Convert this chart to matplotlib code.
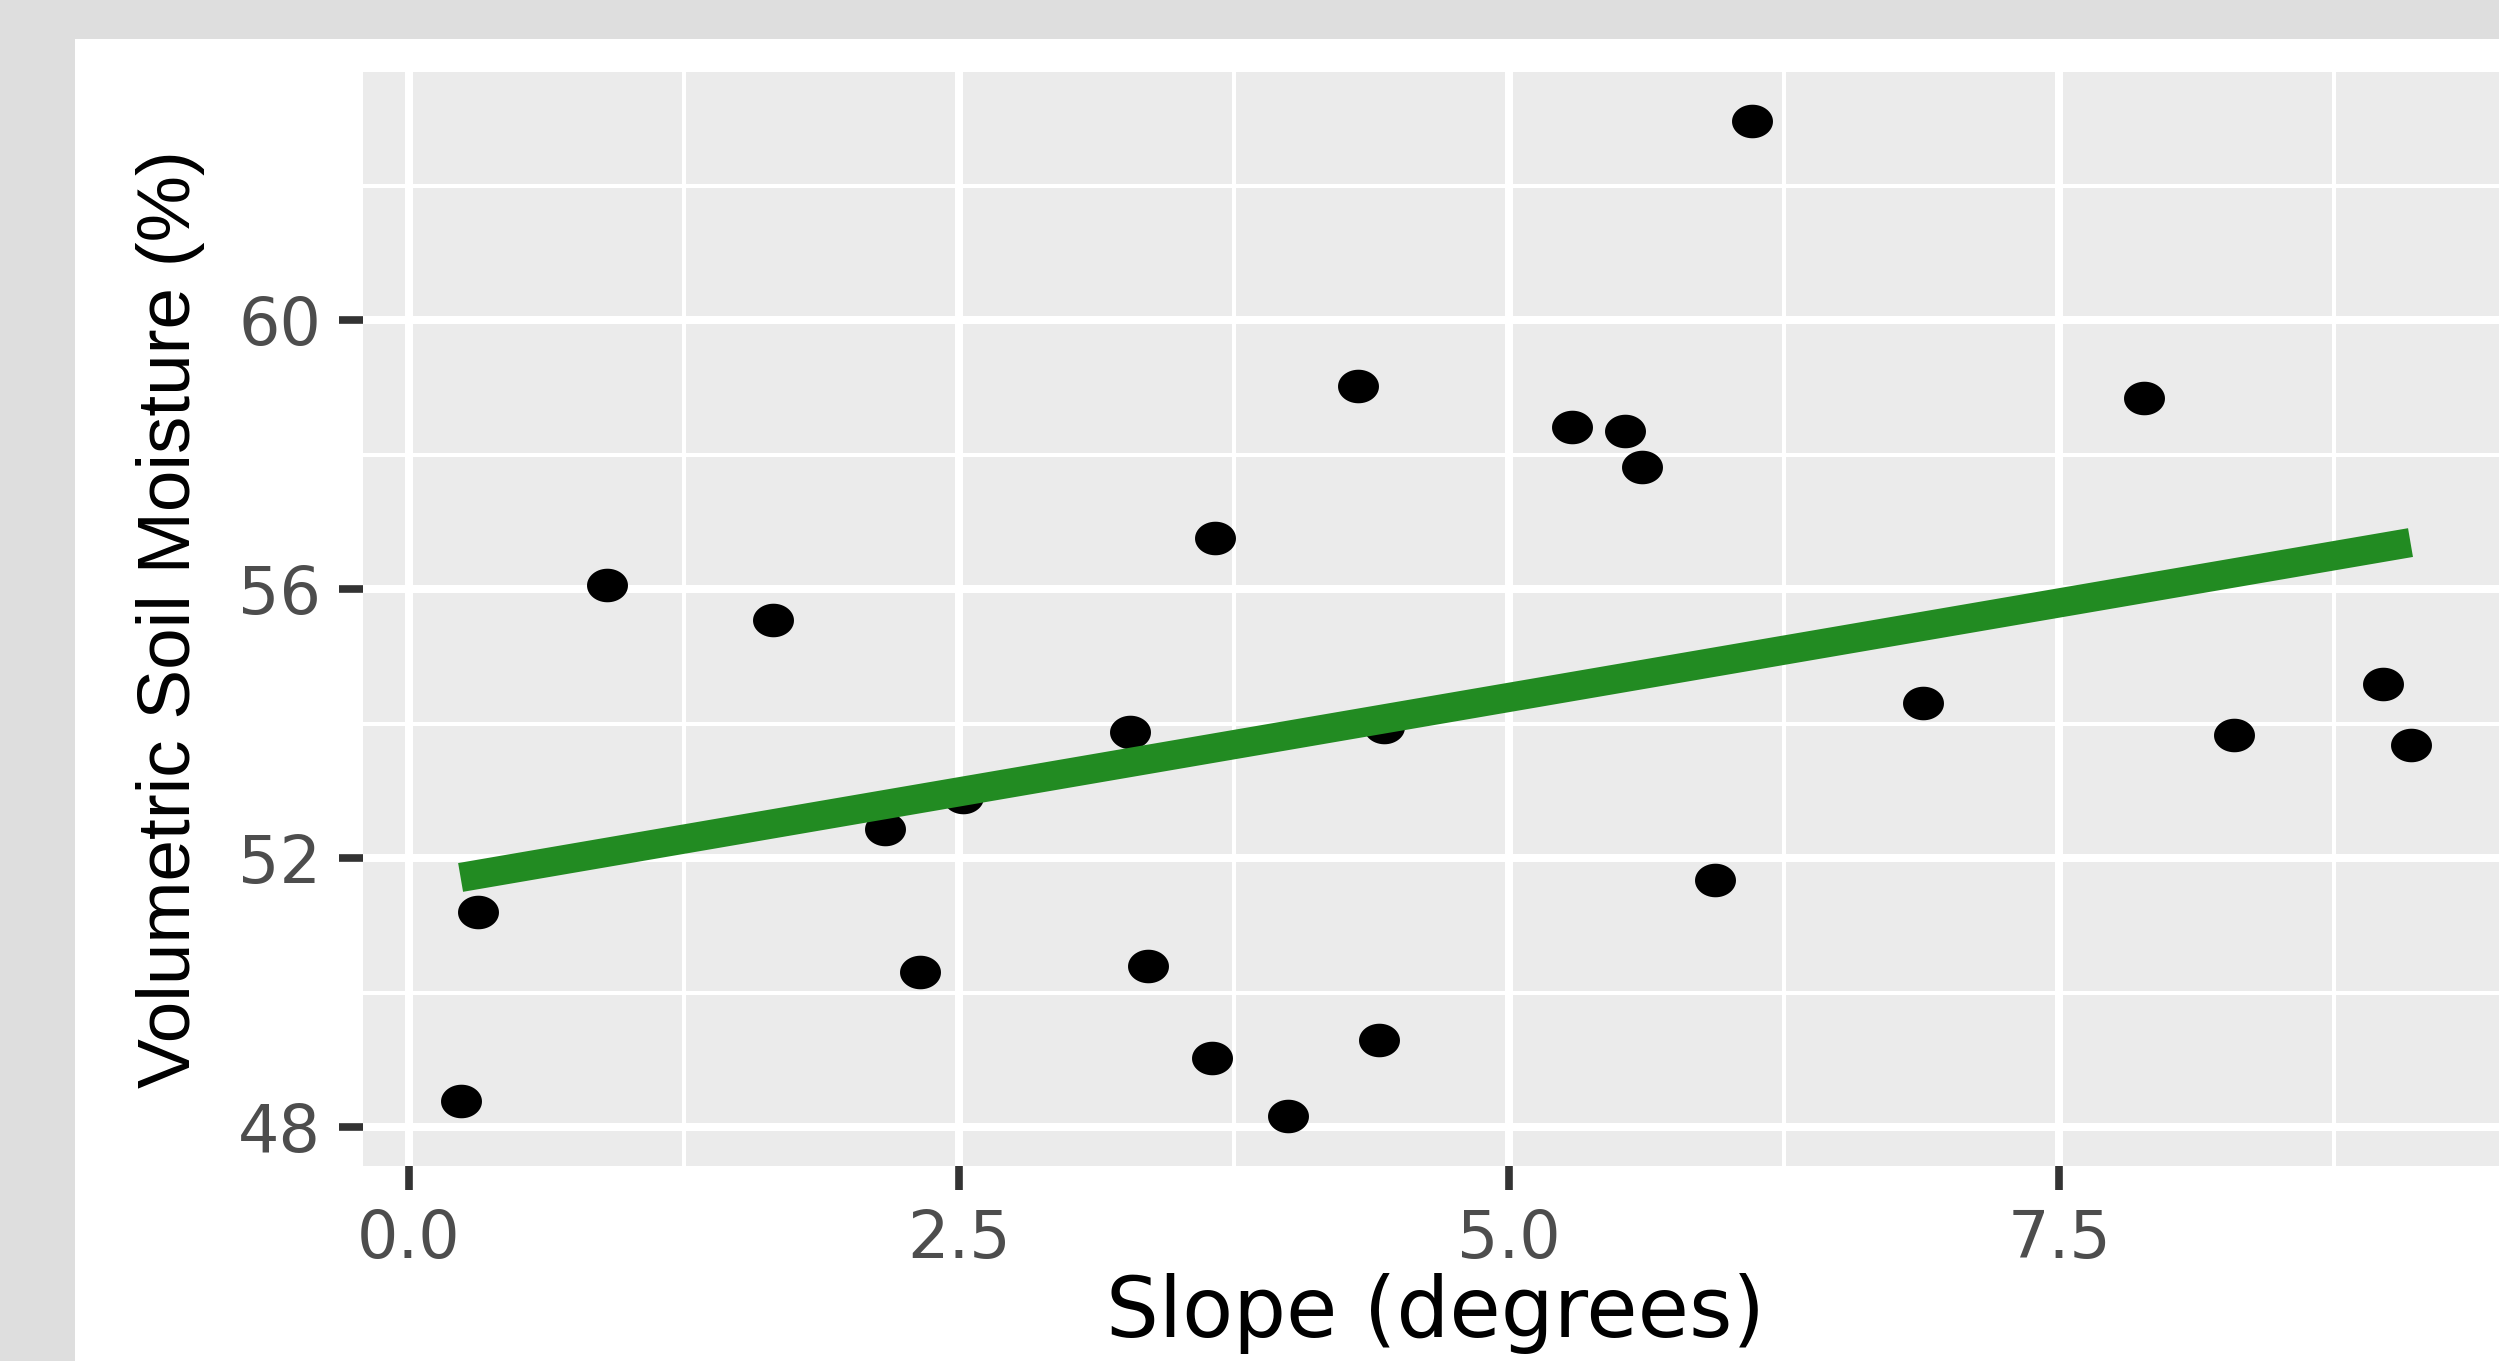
import numpy as np
import matplotlib
matplotlib.use("Agg")
import matplotlib.pyplot as plt
import matplotlib.ticker as plticker
from matplotlib.path import Path
from matplotlib.patches import Rectangle

# slope (degrees) vs volumetric soil moisture (%)
slope = [0.235, 0.315, 0.901, 1.655, 2.162, 2.322, 2.517, 3.278, 3.358, 3.662,
         3.649, 3.996, 4.315, 4.409, 4.430, 5.286, 5.525, 5.605, 5.938, 6.105,
         6.880, 7.887, 8.293, 8.974, 9.097]
moisture = [48.38, 51.20, 56.06, 55.54, 52.43, 50.30, 52.91, 53.88, 50.39, 56.77,
            49.02, 48.16, 59.03, 49.30, 53.95, 58.41, 58.36, 57.82, 51.67, 62.96,
            54.31, 58.84, 53.83, 54.59, 53.69]

x_ticks = [0.0, 2.5, 5.0, 7.5]
x_ticklabels = ["0.0", "2.5", "5.0", "7.5"]
y_ticks = [48, 52, 56, 60]
y_ticklabels = ["48", "52", "56", "60"]

x = np.array(slope)
y = np.array(moisture)

fig = plt.figure(figsize=(24.99, 13.61), dpi=100, facecolor="#dedede")
# white plot background inset from the grey border
bg = Rectangle((75 / 2499, 0), 1, (1361 - 39) / 1361,
               transform=fig.transFigure, facecolor="white",
               edgecolor="none", zorder=-10)
fig.add_artist(bg)

ax = fig.add_axes([0.1453, 0.1433, 0.8583, 0.804])
ax.set_zorder(1)
ax.set_facecolor("#ebebeb")
for s in ax.spines.values():
    s.set_visible(False)

# ellipse marker (points are a bit wider than tall)
t = np.linspace(0, 2 * np.pi, 60)
ell = Path(np.column_stack([1.22 * np.cos(t), np.sin(t)]), closed=True)
ax.plot(x, y, linestyle="none", marker=ell, markersize=29.5,
        color="black", markeredgewidth=0, zorder=3)

# linear fit
b, a = np.polyfit(x, y, 1)
xs = np.array([x.min(), x.max()])
ax.plot(xs, a + b * xs, color="#228B22", linewidth=21,
        solid_capstyle="butt", zorder=4)

xr = x.max() - x.min()
yr = y.max() - y.min()
ax.set_xlim(x.min() - 0.05 * xr, x.max() + 0.05 * xr)
ax.set_ylim(y.min() - 0.05 * yr, y.max() + 0.05 * yr)

ax.set_xticks(x_ticks)
ax.set_xticklabels(x_ticklabels)
ax.set_yticks(y_ticks)
ax.set_yticklabels(y_ticklabels)
ax.xaxis.set_minor_locator(plticker.MultipleLocator(1.25))
ax.yaxis.set_minor_locator(plticker.MultipleLocator(2))

ax.grid(which="major", color="white", linewidth=5.8)
ax.grid(which="minor", color="white", linewidth=2.9)
ax.set_axisbelow(True)

ax.tick_params(which="major", length=17.3, width=5.5, color="#333333",
               labelcolor="#4d4d4d", labelsize=47, pad=13)
ax.tick_params(which="minor", length=0)
for lab in ax.get_xticklabels() + ax.get_yticklabels():
    lab.set_fontfamily("DejaVu Sans")

ax.set_xlabel("Slope (degrees)", fontsize=60, family="DejaVu Sans",
              color="black", labelpad=1)
ax.set_ylabel("Volumetric Soil Moisture (%)", fontsize=53.8,
              family="Liberation Sans", color="black", labelpad=24)

fig.savefig("out.png", dpi=100, facecolor=fig.get_facecolor())
